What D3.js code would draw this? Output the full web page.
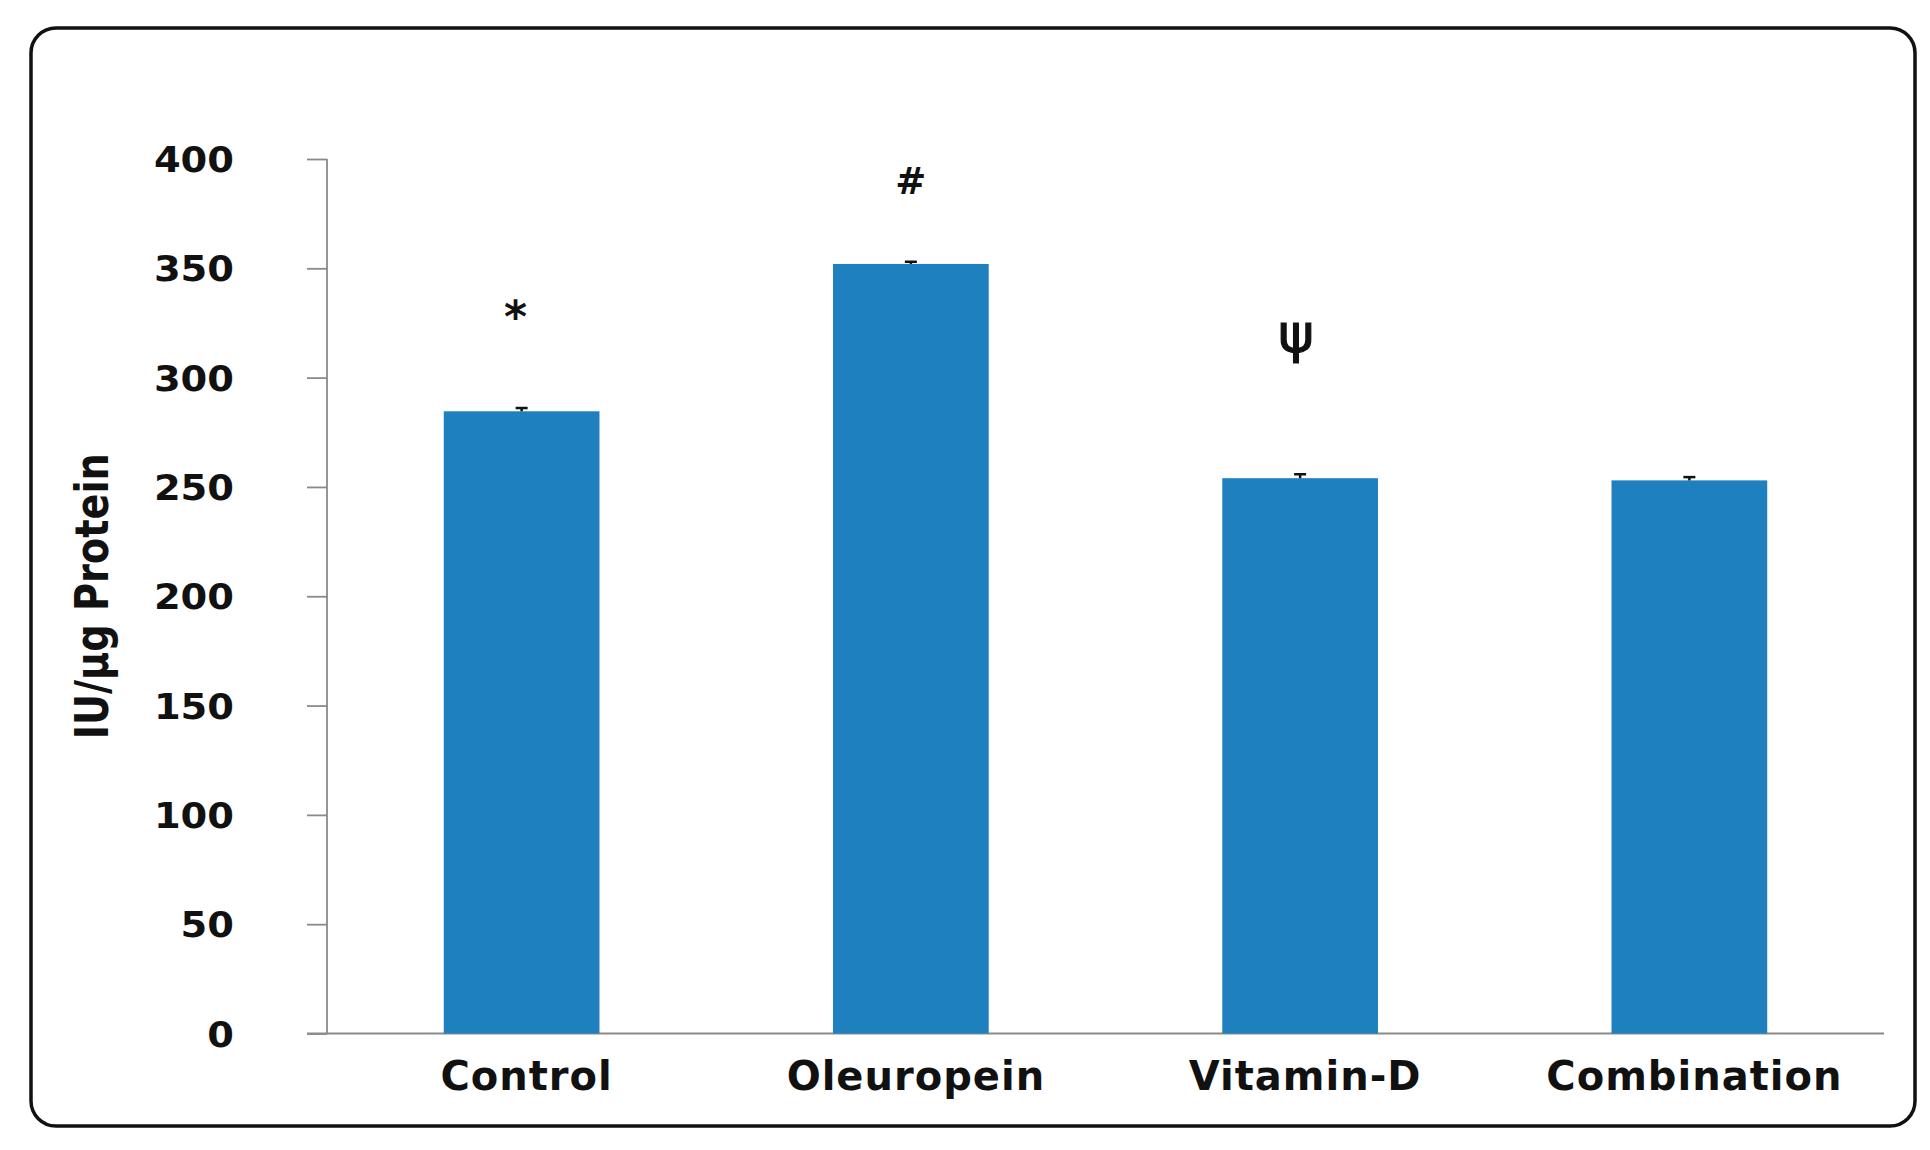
<!DOCTYPE html>
<html>
<head>
    <meta charset="utf-8">
    <title>IU/µg Protein by group</title>
    <script src="https://cdn.jsdelivr.net/npm/d3@7/dist/d3.min.js"></script>
    <style>
        body {
            margin: 0;
            background: #ffffff;
        }
        svg text {
            font-family: "DejaVu Sans", Verdana, sans-serif;
            font-weight: bold;
        }
    </style>
</head>
<body>
    <svg id="chart"></svg>
<script>
    // values
    const groups = ["Control", "Oleuropein", "Vitamin-D", "Combination"];
    const means = [284.6, 352, 254, 253];
    const errors = [1.5, 1, 1.8, 1.5];
    const marks = ["*", "#", "\u03C8", ""];
    const markLevels = [328, 389.5, 320, null];
    const yTicks = [0, 50, 100, 150, 200, 250, 300, 350, 400];

    let width = 1930,
        height = 1150,
        margin = { top: 159, right: 46, bottom: 116.5, left: 327 };

    let svg = d3.select("#chart")
        .attr("width", width)
        .attr("height", height);

    // rounded outer frame
    svg.append("rect")
        .attr("x", 31)
        .attr("y", 28)
        .attr("width", 1884)
        .attr("height", 1098)
        .attr("rx", 25)
        .attr("fill", "none")
        .attr("stroke", "#111")
        .attr("stroke-width", 3.5);

    let x = d3.scaleBand()
        .domain(groups)
        .range([margin.left, width - margin.right])
        .paddingInner(0.6)
        .paddingOuter(0.3);

    let y = d3.scaleLinear()
        .domain([0, 400])
        .range([height - margin.bottom, margin.top]);

    // y axis
    let yAxis = svg.append("g")
        .attr("transform", `translate(${margin.left},0)`)
        .call(d3.axisLeft(y).tickValues(yTicks).tickSize(20).tickPadding(73));
    yAxis.selectAll("line, path").attr("stroke", "#8a8a8a").attr("stroke-width", 1.8);
    yAxis.select("path").attr("d", `M0,${y(400)}V${y(0)}`);
    yAxis.selectAll("text")
        .attr("fill", "#111")
        .style("font-size", "35px")
        .attr("dy", "0.36em")
        .attr("textLength", d => String(d).length * 26.7)
        .attr("lengthAdjust", "spacingAndGlyphs");

    // x axis line
    svg.append("line")
        .attr("x1", margin.left - 20)
        .attr("x2", width - margin.right)
        .attr("y1", y(0))
        .attr("y2", y(0))
        .attr("stroke", "#8a8a8a")
        .attr("stroke-width", 1.8);

    // bars
    svg.append("g")
        .selectAll("rect")
        .data(groups)
        .join("rect")
        .attr("x", d => x(d))
        .attr("width", x.bandwidth())
        .attr("y", (d, i) => y(means[i]))
        .attr("height", (d, i) => y(0) - y(means[i]))
        .attr("fill", "#1f80bf");

    // error bars (upper half only)
    let err = svg.append("g")
        .attr("stroke", "#111")
        .attr("stroke-width", 2.5);
    groups.forEach((g, i) => {
        let cx = x(g) + x.bandwidth() / 2;
        err.append("line")
            .attr("x1", cx).attr("x2", cx)
            .attr("y1", y(means[i])).attr("y2", y(means[i] + errors[i]));
        err.append("line")
            .attr("x1", cx - 6).attr("x2", cx + 6)
            .attr("y1", y(means[i] + errors[i])).attr("y2", y(means[i] + errors[i]));
    });

    // significance marks
    let markSize = { "*": "44px", "#": "37px", "\u03C8": "54px" };
    svg.append("g")
        .selectAll("text")
        .data(groups.filter((g, i) => marks[i] !== ""))
        .join("text")
        .attr("x", d => x(d) + x.bandwidth() / 2 + (d === "Control" ? -6 : d === "Vitamin-D" ? -4 : 0))
        .attr("y", d => y(markLevels[groups.indexOf(d)]))
        .attr("text-anchor", "middle")
        .attr("dominant-baseline", "central")
        .attr("fill", "#111")
        .attr("stroke", d => marks[groups.indexOf(d)] === "\u03C8" ? "#111" : "none")
        .attr("stroke-width", 1.2)
        .style("font-size", d => markSize[marks[groups.indexOf(d)]])
        .style("font-weight", d => marks[groups.indexOf(d)] === "\u03C8" ? "normal" : "bold")
        .text(d => marks[groups.indexOf(d)]);

    // category labels
    svg.append("g")
        .selectAll("text")
        .data(groups)
        .join("text")
        .attr("x", d => x(d) + x.bandwidth() / 2 + 5)
        .attr("y", 1090)
        .attr("text-anchor", "middle")
        .attr("fill", "#111")
        .style("font-size", "40px")
        .style("letter-spacing", "1px")
        .text(d => d);

    // y axis title
    svg.append("text")
        .attr("transform", `translate(108,${(y(0) + y(400)) / 2}) rotate(-90)`)
        .attr("text-anchor", "middle")
        .attr("fill", "#111")
        .style("font-family", "'Liberation Sans Narrow', 'DejaVu Sans Condensed', 'DejaVu Sans', sans-serif")
        .style("font-size", "46px")
        .attr("textLength", 286)
        .attr("lengthAdjust", "spacingAndGlyphs")
        .text("IU/µg Protein");
</script>
</body>
</html>
